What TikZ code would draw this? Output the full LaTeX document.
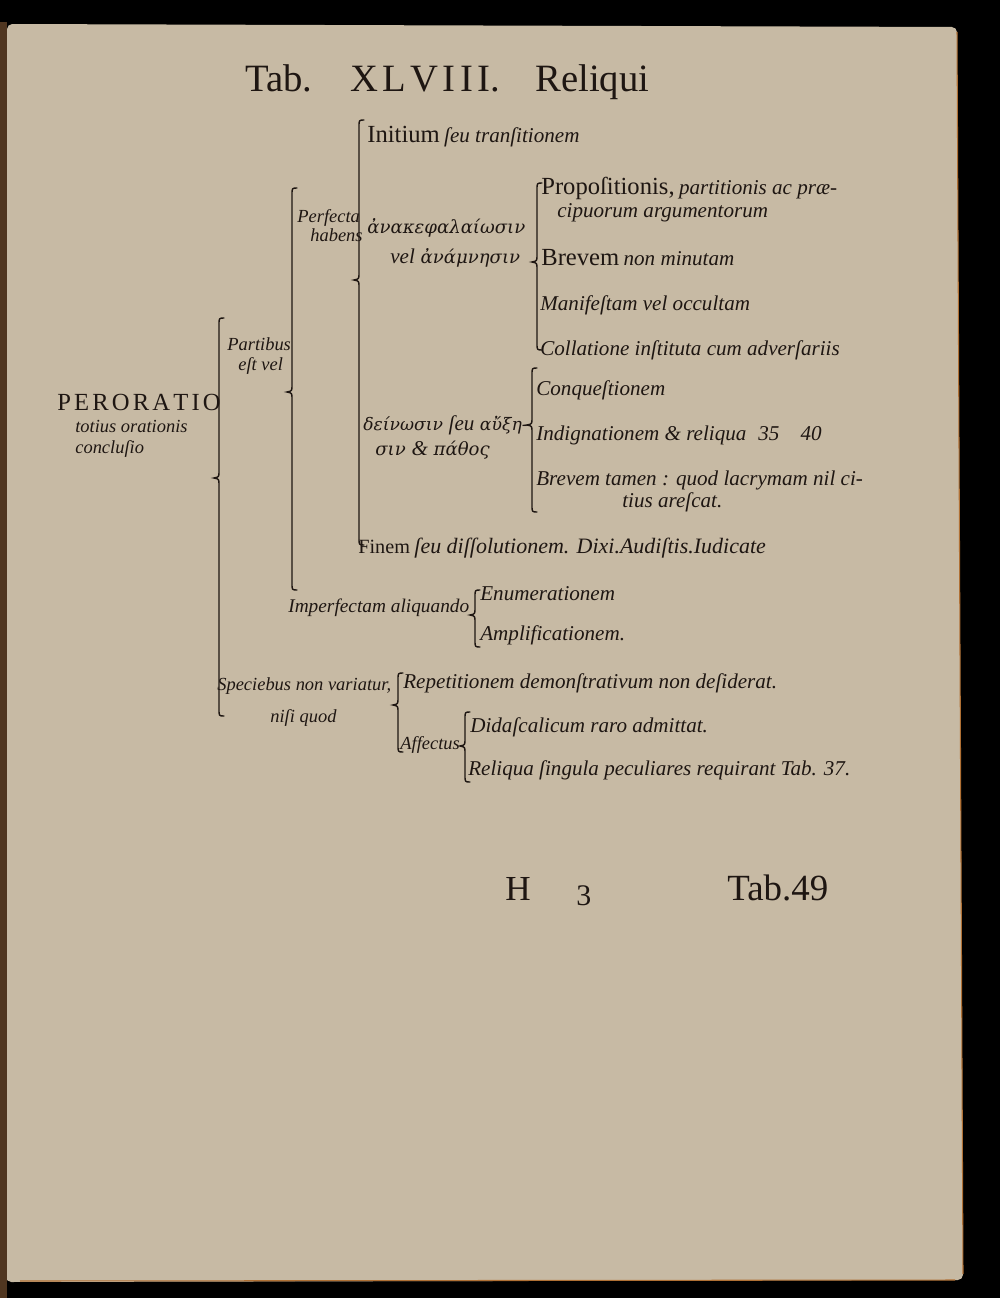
\documentclass[tikz,border=0pt]{standalone}
\usepackage{fontspec}
\setmainfont{Liberation Serif}
\newfontfamily\greekfont{DejaVu Serif}
\usetikzlibrary{positioning}

\definecolor{paper}{RGB}{199,186,164}
\definecolor{ink}{RGB}{30,22,18}
\definecolor{spine}{RGB}{80,54,32}
\definecolor{pageedge}{RGB}{176,112,52}

\newcommand{\rmtx}{\rmfamily\fontsize{14}{16}\selectfont\upshape}
\newcommand{\ittx}{\rmfamily\fontsize{12}{14}\selectfont\itshape}
\newcommand{\grtx}{\greekfont\fontsize{10.3}{12}\selectfont\itshape}
\newcommand{\ls}{\kern2.5pt}
\newcommand{\lsp}{\kern1.8pt}
% x, top, middle, bottom of one curled bracket
\newcommand{\curlbrace}[4]{%
  \draw[brk] (#1+5,#2) .. controls (#1,#2) .. (#1,#2+7) -- (#1,#3-7)
    .. controls (#1,#3-1) .. (#1-5,#3) .. controls (#1,#3+1) .. (#1,#3+7)
    -- (#1,#4-7) .. controls (#1,#4) .. (#1+5,#4);}

\begin{document}
\begin{tikzpicture}[x=0.2mm, y=-0.2mm,
    txt/.style={anchor=base west, inner sep=0pt, text=ink},
    rm/.style={txt, font=\rmtx},
    it/.style={txt, font=\ittx},
    sm/.style={txt, font=\rmfamily\fontsize{10.5}{13}\selectfont\itshape},
    gr/.style={txt, font=\grtx},
    head/.style={txt, font=\rmfamily\fontsize{22}{24}\selectfont},
    brk/.style={draw=ink, line width=0.8pt, line cap=round}]
    \useasboundingbox (0,0) rectangle (1000,1298);

    % Page
    \fill[black] (0,0) rectangle (1000,1298);
    \fill[paper, rounded corners=3pt] (7,24) -- (957,27) -- (963,1280) -- (6,1282) -- cycle;
    \draw[pageedge, line width=0.6pt] (957,32) -- (963,1274);
    \draw[pageedge, line width=0.6pt] (20,1281) -- (955,1280);
    \fill[spine] (0,22) rectangle (7,1298);

    % Title
    \node[head] (tab) at (245,92) {Tab.};
    \node[head] (tabnum) at (350,92) {X\ls L\ls V\ls I\ls I\ls I.};
    \node[head] (reliqui) at (535,92) {Reliqui};

    % Root
    \node[rm] (perorat) at (57,410) {P\lsp E\lsp R\lsp O\lsp R\lsp A\lsp T\lsp I\lsp O};
    \node[sm] (totius) at (75,432) {totius orationis};
    \node[sm] (conclus) at (75,453) {concluſio};

    % Partibus est vel
    \node[sm] (partibus) at (227,350) {Partibus};
    \node[sm] (estvel) at (238,370) {eſt vel};
    \node[sm] (perfecta) at (297,222) {Perfecta};
    \node[sm] (habens) at (310,242) {habens};

    \node[txt] (initium) at (367,143) {{\rmtx Initium} {\ittx ſeu tranſitionem}};
    \node[gr] (anakeph) at (367,233) {ἀνακεφαλαίωσιν};
    \node[gr] (anamn) at (390,263) {{\ittx vel} ἀνάμνησιν};
    \node[txt] (propos) at (541,195) {{\rmtx Propoſitionis,} {\ittx partitionis ac præ-}};
    \node[it] (cipuor) at (557,218) {cipuorum argumentorum};
    \node[txt] (brevem) at (541,265) {{\rmtx Brevem} {\ittx non minutam}};
    \node[it] (manif) at (540,310) {Manifeſtam vel occultam};
    \node[it] (collat) at (540,355) {Collatione inſtituta cum adverſariis};

    \node[gr, font=\greekfont\fontsize{9.8}{12}\selectfont\itshape] (deinos) at (363,430) {δείνωσιν {\ittx ſeu} αὔξη-};
    \node[gr] (pathos) at (375,455) {σιν {\ittx \&} πάθος};
    \node[it] (conqu) at (536,395) {Conqueſtionem};
    \node[it] (indign) at (536,440) {Indignationem \& reliqua};
    \node[it] (numbers) at (758,440) {35\hskip12pt 40};
    \node[it] (brevtam) at (536,485) {Brevem tamen : quod lacrymam nil ci-};
    \node[it] (tius) at (622,507) {tius areſcat.};

    \node[txt] (finem) at (358,553) {{\rmfamily\fontsize{11.5}{13}\selectfont Finem} {\rmfamily\fontsize{12.5}{14}\selectfont\itshape ſeu diſſolutionem. Dixi.Audiſtis.Iudicate}};

    \node[txt, font=\rmfamily\fontsize{11}{13}\selectfont\itshape] (imperf) at (288,612) {Imperfectam aliquando};
    \node[it] (enumer) at (480,600) {Enumerationem};
    \node[it] (amplif) at (480,640) {Amplificationem.};

    % Speciebus non variatur
    \node[sm] (specie) at (217,690) {Speciebus non variatur,};
    \node[sm] (nisi) at (270,722) {niſi quod};
    \node[it] (repet) at (403,688) {Repetitionem demonſtrativum non deſiderat.};
    \node[sm] (affect) at (400,749) {Affectus};
    \node[it] (didasc) at (470,732) {Didaſcalicum raro admittat.};
    \node[it] (reliqua) at (468,775) {Reliqua ſingula peculiares requirant Tab. 37.};

    % Footer
    \node[head, font=\rmfamily\fontsize{20}{22}\selectfont] (sigH) at (505,900) {H};
    \node[head, font=\rmfamily\fontsize{17}{19}\selectfont] (sig3) at (576,905) {3};
    \node[head, font=\rmfamily\fontsize{21}{23}\selectfont] (nexttab) at (727,900) {Tab.49};

    % Brackets
    \curlbrace{219}{318}{478}{716}
    \curlbrace{292}{188}{392}{590}
    \curlbrace{359}{120}{280}{545}
    \curlbrace{537}{183}{262}{350}
    \curlbrace{532}{368}{425}{512}
    \curlbrace{475}{590}{615}{647}
    \curlbrace{398}{673}{705}{752}
    \curlbrace{465}{712}{746}{782}
\end{tikzpicture}
\end{document}
